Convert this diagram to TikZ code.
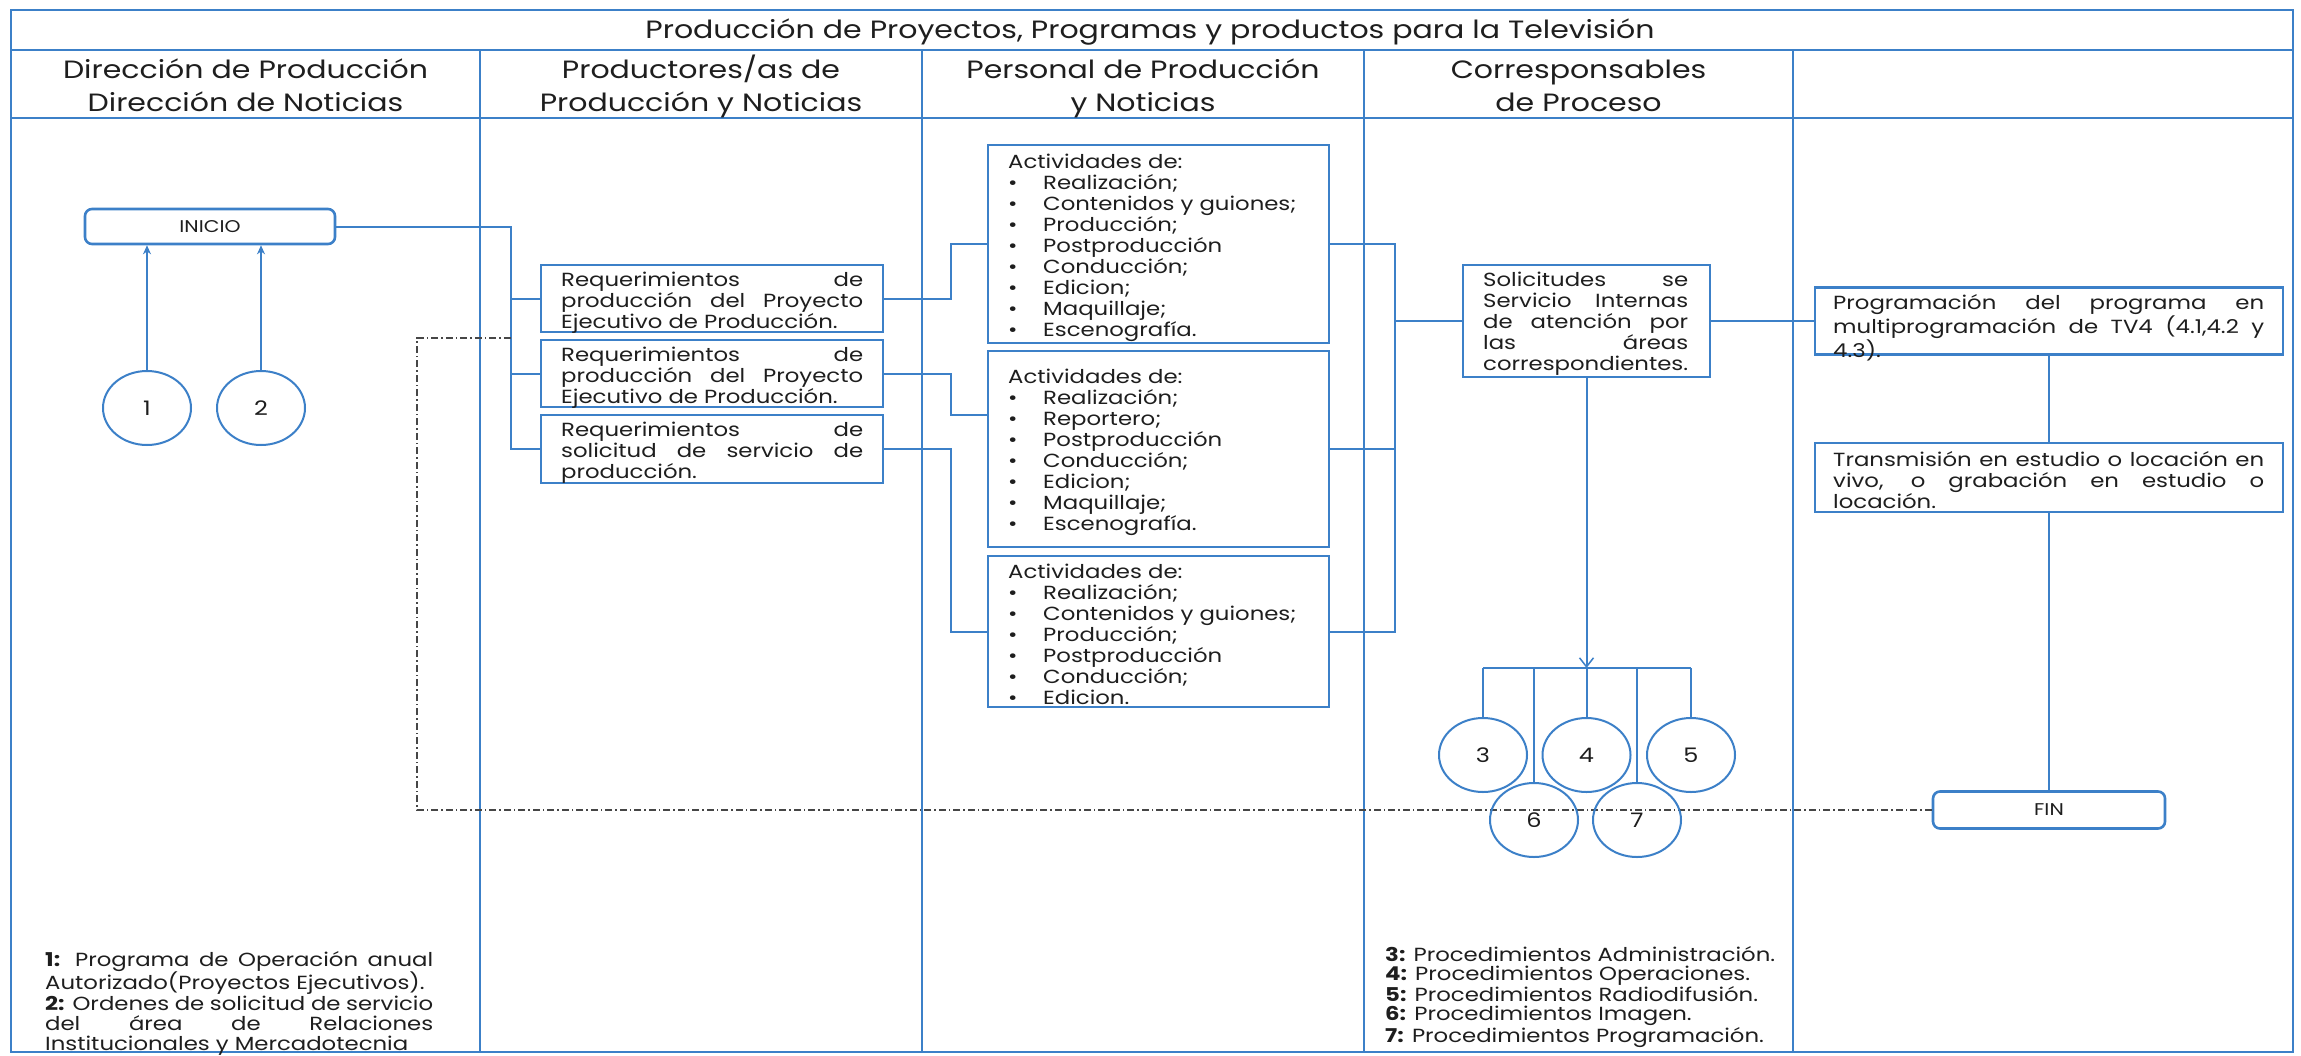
\documentclass[tikz,border=0pt]{standalone}
\usepackage{fontspec}
\setmainfont{Poppins}[FakeStretch=1.2]
\usetikzlibrary{arrows.meta,shapes.geometric}
\definecolor{lnc}{RGB}{60,128,200}
\definecolor{txc}{RGB}{30,30,30}
\definecolor{ddc}{RGB}{70,70,70}
\setlength{\parindent}{0pt}
\newcommand{\jl}[1]{\makebox[\linewidth][s]{#1}\par}
\newcommand{\bl}[1]{\makebox[35pt][l]{\textbullet}#1\par}
\newcommand{\blk}[2]{\begin{minipage}[t]{#1}#2\end{minipage}}
\begin{document}
\begin{tikzpicture}[x=1pt,y=-1pt,
 frm/.style={draw=lnc,line width=2pt},
 wire/.style={draw=lnc,line width=2pt},
 bx/.style={draw=lnc,line width=2.6pt,rectangle,inner sep=0pt,fill=white},
 ovl/.style={draw=lnc,line width=2pt,ellipse,minimum width=88pt,minimum height=74pt,inner sep=0pt,font=\fontsize{20}{20}\selectfont,text=txc},
 bodyt/.style={inner sep=0pt,anchor=base west,text=txc,font=\fontsize{19}{21}\selectfont},
 hdt/.style={inner sep=0pt,anchor=base,text=txc,font=\fontsize{25}{33}\selectfont},
 dd/.style={draw=ddc,line width=1.6pt,dash pattern=on 7pt off 3pt on 1.5pt off 3pt},
 arr/.style={-{Stealth[length=9pt,width=8pt]}}]
\useasboundingbox (0,0) rectangle (2301,1055);
\fill[white] (0,0) rectangle (2301,1055);
% frame
\draw[frm] (11,10) rectangle (2293,1052);
\draw[frm] (11,50) -- (2293,50);
\draw[frm] (11,118) -- (2293,118);
\foreach \x in {480,922,1364,1793} \draw[frm] (\x,50) -- (\x,1052);
% headers
\node[hdt] (ttl) at (1150,38.5) {Producción de Proyectos, Programas y productos para la Televisión};
\node[hdt] (h1) at (245.5,78) {\blk{460pt}{\centering Dirección de Producción\par Dirección de Noticias}};
\node[hdt] (h2) at (701,78) {\blk{440pt}{\centering Productores/as de\par Producción y Noticias}};
\node[hdt] (h3) at (1143,78) {\blk{440pt}{\centering Personal de Producción\par y Noticias}};
\node[hdt] (h4) at (1578.5,78) {\blk{420pt}{\centering Corresponsables\par de Proceso}};
% start
\node[bx,rounded corners=7pt,minimum width=250pt,minimum height=35pt,font=\fontsize{17}{17}\selectfont,text=txc] (ini) at (210,226.5) {INICIO};
\node[ovl] (c1) at (147,408) {1};
\node[ovl] (c2) at (261,408) {2};
\draw[wire,arr] (c1.north) -- (c1.north |- ini.south);
\draw[wire,arr] (c2.north) -- (c2.north |- ini.south);
% requerimientos
\node[bx,minimum width=342pt,minimum height=67pt] (rqA) at (712,298.5) {};
\node[bx,minimum width=342pt,minimum height=67pt] (rqB) at (712,373.5) {};
\node[bx,minimum width=342pt,minimum height=68pt] (rqC) at (712,449) {};
\node[bodyt] (tA) at (561,286.5) {\blk{302pt}{\jl{Requerimientos de}\jl{producción del Proyecto}Ejecutivo de Producción.}};
\node[bodyt] (tB) at (561,361.5) {\blk{302pt}{\jl{Requerimientos de}\jl{producción del Proyecto}Ejecutivo de Producción.}};
\node[bodyt] (tC) at (561,436.5) {\blk{302pt}{\jl{Requerimientos de}\jl{solicitud de servicio de}producción.}};
\coordinate (m0) at (511,0);
\draw[wire] (ini.east) -| (rqC.west -| m0) -- (rqC.west);
\draw[wire] (rqA.west -| m0) -- (rqA.west);
\draw[wire] (rqB.west -| m0) -- (rqB.west);
% actividades
\node[bx,minimum width=341pt,minimum height=198pt] (act1) at (1158.5,244) {};
\node[bx,minimum width=341pt,minimum height=196pt] (act2) at (1158.5,449) {};
\node[bx,minimum width=341pt,minimum height=151pt] (act3) at (1158.5,631.5) {};
\node[bodyt] (t1) at (1008,168.5) {\blk{320pt}{Actividades de:\par\bl{Realización;}\bl{Contenidos y guiones;}\bl{Producción;}\bl{Postproducción}\bl{Conducción;}\bl{Edicion;}\bl{Maquillaje;}\bl{Escenografía.}}};
\node[bodyt] (t2) at (1008,383.5) {\blk{320pt}{Actividades de:\par\bl{Realización;}\bl{Reportero;}\bl{Postproducción}\bl{Conducción;}\bl{Edicion;}\bl{Maquillaje;}\bl{Escenografía.}}};
\node[bodyt] (t3) at (1008,578.5) {\blk{320pt}{Actividades de:\par\bl{Realización;}\bl{Contenidos y guiones;}\bl{Producción;}\bl{Postproducción}\bl{Conducción;}\bl{Edicion.}}};
\coordinate (m1) at (951,0);
\coordinate (a2in) at (988,415);
\draw[wire] (rqA.east) -- (rqA.east -| m1) |- (act1.west);
\draw[wire] (rqB.east) -- (rqB.east -| m1) |- (a2in);
\draw[wire] (rqC.east) -- (rqC.east -| m1) |- (act3.west);
% solicitudes
\node[bx,minimum width=247pt,minimum height=112pt] (sol) at (1586.5,321) {};
\node[bodyt] (ts) at (1483,286.5) {\blk{205pt}{\jl{Solicitudes se}\jl{Servicio Internas}\jl{de atención por}\jl{las áreas}correspondientes.}};
\coordinate (m2) at (1395,0);
\draw[wire] (act1.east) -| (act3.east -| m2) -- (act3.east);
\draw[wire] (act2.east) -- (act2.east -| m2);
\draw[wire] (sol.west -| m2) -- (sol.west);
% right column
\node[bx,minimum width=468pt,minimum height=67pt] (prog) at (2049,321) {};
\node[bodyt] (tp) at (1833,309.5) {\blk{431pt}{\jl{Programación del programa en}\jl{multiprogramación de TV4 (4.1,4.2 y}4.3).}};
\node[bx,minimum width=468pt,minimum height=69pt] (trans) at (2049,477.5) {};
\node[bodyt] (tt) at (1833,466.5) {\blk{431pt}{\jl{Transmisión en estudio o locación en}\jl{vivo, o grabación en estudio o}locación.}};
\node[bx,rounded corners=7pt,minimum width=232pt,minimum height=37pt,font=\fontsize{17}{17}\selectfont,text=txc] (fin) at (2049,810) {FIN};
\draw[wire] (sol.east) -- (sol.east -| prog.west);
\draw[wire] (prog.south) -- (trans.north);
\draw[wire] (trans.south) -- (fin.north);
% feedback
\coordinate (d1) at (417,338);
\coordinate (d2) at (511,338);
\draw[dd] (fin.west) -| (d1) -- (d2);
% circles 3-7
\node[ovl] (c3) at (1483,755) {3};
\node[ovl] (c4) at (1586.5,755) {4};
\node[ovl] (c5) at (1691,755) {5};
\node[ovl] (c6) at (1534,820) {6};
\node[ovl] (c7) at (1637,820) {7};
\coordinate (bl) at (1483,668);
\coordinate (br) at (1691,668);
\draw[wire,-{Straight Barb[length=9pt,width=14pt,line width=1.5pt]}] (sol.south) -- (sol.south |- bl);
\draw[wire] (bl) -- (br);
\draw[wire] (c3.north |- bl) -- (c3.north);
\draw[wire] (c4.north |- bl) -- (c4.north);
\draw[wire] (c5.north |- bl) -- (c5.north);
\draw[wire] (c6.north |- bl) -- (c6.north);
\draw[wire] (c7.north |- bl) -- (c7.north);
% legends
\node[bodyt] (lg1) at (45,966) {\blk{388pt}{\fontsize{19}{20.3}\selectfont\jl{\textbf{1:} Programa de Operación anual}Autorizado(Proyectos Ejecutivos).\par\jl{\textbf{2:} Ordenes de solicitud de servicio}\jl{del área de Relaciones}Institucionales y Mercadotecnia}};
\node[bodyt] (lg2) at (1385,961) {\blk{400pt}{\fontsize{19}{19.5}\selectfont\textbf{3:} Procedimientos Administración.\par\textbf{4:} Procedimientos Operaciones.\par\textbf{5:} Procedimientos Radiodifusión.\par\textbf{6:} Procedimientos Imagen.\par\textbf{7:} Procedimientos Programación.}};
\end{tikzpicture}
\end{document}
